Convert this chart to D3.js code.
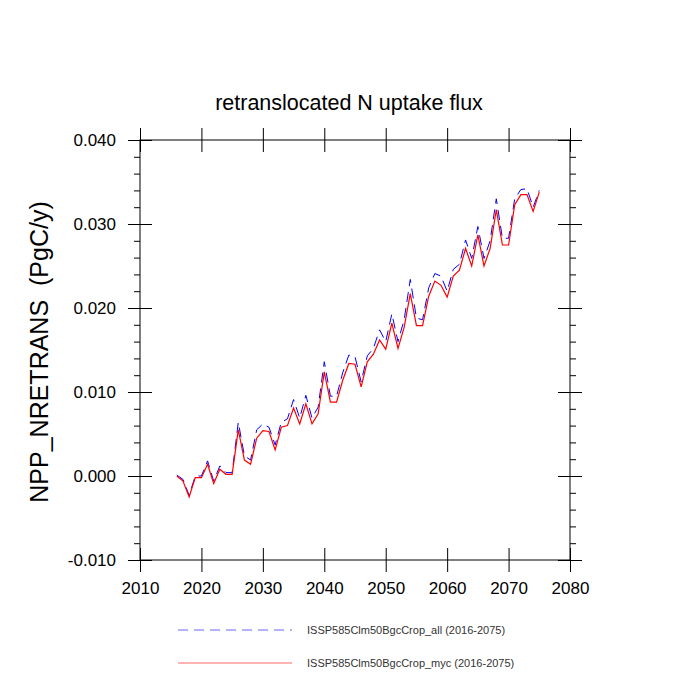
<!DOCTYPE html>
<html><head><meta charset="utf-8">
<script src="https://cdn.jsdelivr.net/npm/d3@7"></script>
<style>body{margin:0;background:#fff}text{font-family:"Liberation Sans",Arial,sans-serif}</style>
</head><body><div id="plot"></div>
<script>
// data
var startYear = 2016;
var mycVals = [0.0000,-0.0006,-0.0025,-0.0002,-0.0002,0.0014,-0.0009,0.0008,0.0002,0.0002,
  0.0055,0.0019,0.0014,0.0045,0.0054,0.0053,0.0031,0.0058,0.0060,0.0081,
  0.0062,0.0086,0.0062,0.0074,0.0124,0.0088,0.0088,0.0114,0.0134,0.0133,
  0.0106,0.0136,0.0145,0.0162,0.0151,0.0182,0.0152,0.0177,0.0217,0.0179,
  0.0179,0.0214,0.0232,0.0227,0.0213,0.0238,0.0245,0.0271,0.0250,0.0287,
  0.0250,0.0271,0.0317,0.0275,0.0275,0.0323,0.0335,0.0335,0.0315,0.0338];
var allVals = [0.0001,-0.0004,-0.0023,0.0000,0.0000,0.0018,-0.0006,0.0012,0.0004,0.0004,
  0.0064,0.0024,0.0019,0.0055,0.0062,0.0058,0.0037,0.0064,0.0068,0.0091,
  0.0069,0.0096,0.0069,0.0082,0.0136,0.0095,0.0095,0.0123,0.0144,0.0142,
  0.0112,0.0143,0.0152,0.0174,0.0160,0.0193,0.0160,0.0186,0.0234,0.0188,
  0.0186,0.0224,0.0241,0.0238,0.0220,0.0246,0.0252,0.0281,0.0259,0.0297,
  0.0259,0.0280,0.0330,0.0283,0.0283,0.0330,0.0341,0.0342,0.0320,0.0340];
var xTicks = [2010,2020,2030,2040,2050,2060,2070,2080];
var yTicks = [-0.010,0.000,0.010,0.020,0.030,0.040];
var seriesNames = ["ISSP585Clm50BgcCrop_all (2016-2075)","ISSP585Clm50BgcCrop_myc (2016-2075)"];

var margin = {t:140,r:130,b:140,l:140};
var width = 700-margin.l-margin.r, height = 700-margin.t-margin.b;
var svg = d3.select('#plot').append('svg').attr('width',700).attr('height',700);
var plot = svg.append('g').attr('transform','translate('+margin.l+','+margin.t+')');

var x = d3.scaleLinear().domain([2010,2080]).range([0,width]);
var y = d3.scaleLinear().domain([-0.010,0.040]).range([height,0]);

plot.append('rect').attr('width',width).attr('height',height).attr('fill','none').attr('stroke','#000');

var minorY = d3.range(-0.010,0.0401,0.002);
var fmtY = function(d){ return d3.format('.3f')(d).replace('\u2212','-'); };
plot.append('g').attr('transform','translate(0,'+height+')').call(d3.axisBottom(x).tickValues(xTicks).tickSize(-12).tickFormat(d3.format('d')).tickPadding(22));
plot.append('g').call(d3.axisTop(x).tickValues(xTicks).tickSize(-12).tickFormat(''));
plot.append('g').call(d3.axisLeft(y).tickValues(yTicks).tickSize(-12).tickFormat(fmtY).tickPadding(24));
plot.append('g').attr('transform','translate('+width+',0)').call(d3.axisRight(y).tickValues(yTicks).tickSize(-12).tickFormat(''));
// outward major ticks + minor ticks
plot.append('g').attr('transform','translate(0,'+height+')').call(d3.axisBottom(x).tickValues(xTicks).tickSize(12).tickFormat(''));
plot.append('g').call(d3.axisTop(x).tickValues(xTicks).tickSize(12).tickFormat(''));
plot.append('g').call(d3.axisLeft(y).tickValues(yTicks).tickSize(12).tickFormat(''));
plot.append('g').attr('transform','translate('+width+',0)').call(d3.axisRight(y).tickValues(yTicks).tickSize(12).tickFormat(''));
plot.append('g').call(d3.axisLeft(y).tickValues(minorY).tickSize(6).tickFormat(''));
plot.append('g').attr('transform','translate('+width+',0)').call(d3.axisRight(y).tickValues(minorY).tickSize(6).tickFormat(''));
plot.selectAll('.domain').remove();
plot.selectAll('.tick text').attr('font-size',17).attr('fill','#000').style('font-family','Liberation Sans, Arial');

var line = d3.line().x(function(d,i){return x(startYear+i);}).y(function(d){return y(d);});
plot.append('path').datum(allVals).attr('d',line).attr('fill','none').attr('stroke','#0000ff').attr('stroke-width',1).attr('stroke-dasharray','10,6');
plot.append('path').datum(mycVals).attr('d',line).attr('fill','none').attr('stroke','#ff0000').attr('stroke-width',1.2);

svg.append('text').attr('x',349).attr('y',110).attr('text-anchor','middle').attr('font-size',21.5).text('retranslocated N uptake flux');
svg.append('text').attr('transform','translate(48,352) rotate(-90)').attr('text-anchor','middle').attr('font-size',25)
  .style('white-space','pre').text('NPP_NRETRANS  (PgC/y)');

var leg = svg.append('g');
[0,1].forEach(function(i){
  var ly = 630 + i*33;
  leg.append('line').attr('x1',178).attr('x2',292).attr('y1',ly).attr('y2',ly)
    .attr('stroke', i? '#ff6666':'#6666ff').attr('stroke-width',1).attr('stroke-dasharray', i? null:'10,6');
  leg.append('text').attr('x',307).attr('y',ly+4).attr('font-size',11).attr('fill','#333').text(seriesNames[i]);
});
</script></body></html>
